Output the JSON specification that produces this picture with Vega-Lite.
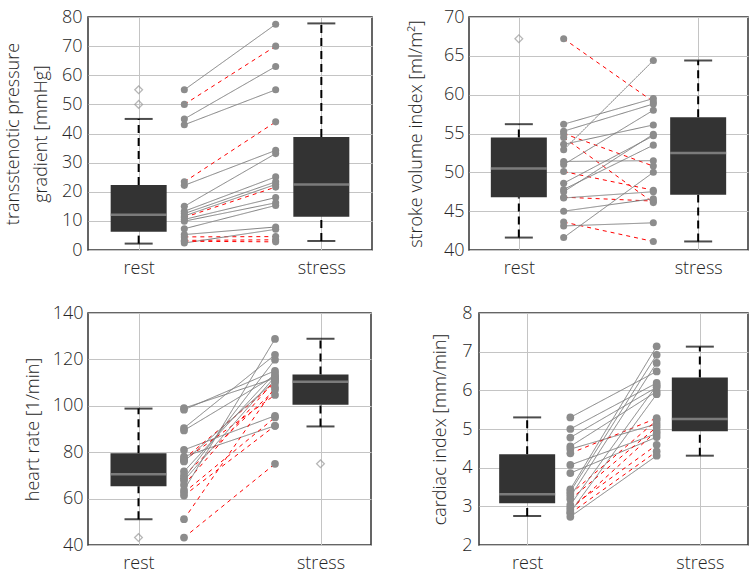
{
  "$schema": "https://vega.github.io/schema/vega-lite/v6.json",
  "padding": {"left": 3, "top": 7, "right": 0, "bottom": 0},
  "background": "white",
  "datasets": {
    "boxes": [
      {"panel": "grad", "pos": 1, "lo": 2.2, "q1": 6.3, "med": 12.1, "q3": 22.3, "hi": 45},
      {"panel": "grad", "pos": 3, "lo": 3.1, "q1": 11.4, "med": 22.5, "q3": 38.8, "hi": 77.8},
      {"panel": "svi", "pos": 1, "lo": 41.6, "q1": 46.8, "med": 50.5, "q3": 54.5, "hi": 56.2},
      {"panel": "svi", "pos": 3, "lo": 41.1, "q1": 47.1, "med": 52.5, "q3": 57.1, "hi": 64.4},
      {"panel": "hr", "pos": 1, "lo": 51.1, "q1": 65.3, "med": 70.5, "q3": 79.6, "hi": 98.8},
      {"panel": "hr", "pos": 3, "lo": 91.1, "q1": 100.4, "med": 110.4, "q3": 113.5, "hi": 128.9},
      {"panel": "ci", "pos": 1, "lo": 2.75, "q1": 3.08, "med": 3.31, "q3": 4.35, "hi": 5.3},
      {"panel": "ci", "pos": 3, "lo": 4.31, "q1": 4.94, "med": 5.26, "q3": 6.33, "hi": 7.13}
    ],
    "outliers": [
      {"panel": "grad", "pos": 1, "value": 50},
      {"panel": "grad", "pos": 1, "value": 55},
      {"panel": "svi", "pos": 1, "value": 67.2},
      {"panel": "hr", "pos": 1, "value": 43.2},
      {"panel": "hr", "pos": 3, "value": 75}
    ],
    "pairs": [
      {"panel": "grad", "id": 1, "rest": 55, "stress": 77.5, "grp": "g"},
      {"panel": "grad", "id": 2, "rest": 50, "stress": 70, "grp": "r"},
      {"panel": "grad", "id": 3, "rest": 45, "stress": 63, "grp": "g"},
      {"panel": "grad", "id": 4, "rest": 43, "stress": 55, "grp": "g"},
      {"panel": "grad", "id": 5, "rest": 23.4, "stress": 44, "grp": "r"},
      {"panel": "grad", "id": 6, "rest": 22.2, "stress": 34.2, "grp": "g"},
      {"panel": "grad", "id": 7, "rest": 15, "stress": 33.1, "grp": "g"},
      {"panel": "grad", "id": 8, "rest": 13.3, "stress": 25.1, "grp": "g"},
      {"panel": "grad", "id": 9, "rest": 12.5, "stress": 23.4, "grp": "g"},
      {"panel": "grad", "id": 10, "rest": 11.7, "stress": 22.5, "grp": "g"},
      {"panel": "grad", "id": 11, "rest": 11.2, "stress": 21.6, "grp": "r"},
      {"panel": "grad", "id": 12, "rest": 10.5, "stress": 18, "grp": "g"},
      {"panel": "grad", "id": 13, "rest": 9.9, "stress": 16.2, "grp": "g"},
      {"panel": "grad", "id": 14, "rest": 7.3, "stress": 15.3, "grp": "g"},
      {"panel": "grad", "id": 15, "rest": 5.3, "stress": 7.9, "grp": "g"},
      {"panel": "grad", "id": 16, "rest": 4.5, "stress": 4.6, "grp": "r"},
      {"panel": "grad", "id": 17, "rest": 3.3, "stress": 3.5, "grp": "r"},
      {"panel": "grad", "id": 18, "rest": 2.4, "stress": 7.1, "grp": "g"},
      {"panel": "grad", "id": 19, "rest": 3.0, "stress": 2.8, "grp": "r"},
      {"panel": "svi", "id": 1, "rest": 67.2, "stress": 59.1, "grp": "r"},
      {"panel": "svi", "id": 2, "rest": 56.2, "stress": 59.5, "grp": "g"},
      {"panel": "svi", "id": 3, "rest": 55.3, "stress": 58.8, "grp": "g"},
      {"panel": "svi", "id": 4, "rest": 55.0, "stress": 50.8, "grp": "r"},
      {"panel": "svi", "id": 5, "rest": 54.5, "stress": 46.1, "grp": "r"},
      {"panel": "svi", "id": 6, "rest": 53.6, "stress": 56.1, "grp": "g"},
      {"panel": "svi", "id": 7, "rest": 52.9, "stress": 64.4, "grp": "g"},
      {"panel": "svi", "id": 8, "rest": 51.4, "stress": 51.5, "grp": "g"},
      {"panel": "svi", "id": 9, "rest": 51.0, "stress": 58.0, "grp": "g"},
      {"panel": "svi", "id": 10, "rest": 50.1, "stress": 47.7, "grp": "r"},
      {"panel": "svi", "id": 11, "rest": 48.6, "stress": 54.7, "grp": "g"},
      {"panel": "svi", "id": 12, "rest": 47.8, "stress": 53.5, "grp": "g"},
      {"panel": "svi", "id": 13, "rest": 47.5, "stress": 54.9, "grp": "g"},
      {"panel": "svi", "id": 14, "rest": 46.8, "stress": 46.3, "grp": "r"},
      {"panel": "svi", "id": 15, "rest": 46.7, "stress": 47.5, "grp": "g"},
      {"panel": "svi", "id": 16, "rest": 45.0, "stress": 46.6, "grp": "g"},
      {"panel": "svi", "id": 17, "rest": 43.6, "stress": 41.1, "grp": "r"},
      {"panel": "svi", "id": 18, "rest": 43.1, "stress": 43.5, "grp": "g"},
      {"panel": "svi", "id": 19, "rest": 41.6, "stress": 50.0, "grp": "g"},
      {"panel": "hr", "id": 1, "rest": 99, "stress": 111.9, "grp": "g"},
      {"panel": "hr", "id": 2, "rest": 98.3, "stress": 115.1, "grp": "g"},
      {"panel": "hr", "id": 3, "rest": 90.4, "stress": 122, "grp": "g"},
      {"panel": "hr", "id": 4, "rest": 89.4, "stress": 113, "grp": "g"},
      {"panel": "hr", "id": 5, "rest": 81, "stress": 95.7, "grp": "g"},
      {"panel": "hr", "id": 6, "rest": 78.1, "stress": 91.4, "grp": "g"},
      {"panel": "hr", "id": 7, "rest": 77.1, "stress": 109.8, "grp": "r"},
      {"panel": "hr", "id": 8, "rest": 76.5, "stress": 104.7, "grp": "r"},
      {"panel": "hr", "id": 9, "rest": 76, "stress": 110.8, "grp": "g"},
      {"panel": "hr", "id": 10, "rest": 71.7, "stress": 114.1, "grp": "g"},
      {"panel": "hr", "id": 11, "rest": 70, "stress": 106.9, "grp": "r"},
      {"panel": "hr", "id": 12, "rest": 68.8, "stress": 119.9, "grp": "g"},
      {"panel": "hr", "id": 13, "rest": 67.8, "stress": 112.5, "grp": "g"},
      {"panel": "hr", "id": 14, "rest": 65.9, "stress": 111, "grp": "r"},
      {"panel": "hr", "id": 15, "rest": 63.7, "stress": 128.8, "grp": "g"},
      {"panel": "hr", "id": 16, "rest": 62.6, "stress": 95, "grp": "r"},
      {"panel": "hr", "id": 17, "rest": 61.3, "stress": 91.4, "grp": "r"},
      {"panel": "hr", "id": 18, "rest": 51.1, "stress": 108, "grp": "r"},
      {"panel": "hr", "id": 19, "rest": 43.2, "stress": 75, "grp": "r"},
      {"panel": "ci", "id": 1, "rest": 5.30, "stress": 6.49, "grp": "g"},
      {"panel": "ci", "id": 2, "rest": 5.00, "stress": 6.19, "grp": "g"},
      {"panel": "ci", "id": 3, "rest": 4.78, "stress": 6.08, "grp": "g"},
      {"panel": "ci", "id": 4, "rest": 4.55, "stress": 5.97, "grp": "g"},
      {"panel": "ci", "id": 5, "rest": 4.48, "stress": 5.13, "grp": "g"},
      {"panel": "ci", "id": 6, "rest": 4.37, "stress": 5.28, "grp": "r"},
      {"panel": "ci", "id": 7, "rest": 4.07, "stress": 4.88, "grp": "g"},
      {"panel": "ci", "id": 8, "rest": 3.86, "stress": 4.79, "grp": "g"},
      {"panel": "ci", "id": 9, "rest": 3.44, "stress": 7.14, "grp": "g"},
      {"panel": "ci", "id": 10, "rest": 3.38, "stress": 6.92, "grp": "g"},
      {"panel": "ci", "id": 11, "rest": 3.32, "stress": 5.22, "grp": "r"},
      {"panel": "ci", "id": 12, "rest": 3.25, "stress": 6.71, "grp": "g"},
      {"panel": "ci", "id": 13, "rest": 3.18, "stress": 5.05, "grp": "r"},
      {"panel": "ci", "id": 14, "rest": 3.04, "stress": 6.13, "grp": "g"},
      {"panel": "ci", "id": 15, "rest": 2.97, "stress": 4.59, "grp": "r"},
      {"panel": "ci", "id": 16, "rest": 2.91, "stress": 4.95, "grp": "r"},
      {"panel": "ci", "id": 17, "rest": 2.85, "stress": 5.9, "grp": "g"},
      {"panel": "ci", "id": 18, "rest": 2.82, "stress": 4.42, "grp": "r"},
      {"panel": "ci", "id": 19, "rest": 2.73, "stress": 4.31, "grp": "g"}
    ]
  },
  "spacing": 25,
  "vconcat": [
    {
      "bounds": "flush",
      "spacing": 97,
      "hconcat": [
        {
          "width": 284, "height": 233,
          "layer": [
            {"data": {"name": "boxes"}, "transform": [{"filter": "datum.panel == 'grad'"}],
             "layer": [
              {"mark": {"type": "rule", "color": "#000", "strokeWidth": 2, "strokeDash": [8, 5]},
               "encoding": {
                 "x": {"field": "pos", "type": "quantitative", "scale": {"domain": [0.5, 3.5], "nice": false, "zero": false},
                       "axis": {"values": [1, 3], "tickCount": 20, "labelExpr": "datum.value == 1 ? 'rest' : 'stress'", "title": null}},
                 "y": {"field": "q3", "type": "quantitative", "scale": {"domain": [0, 80], "nice": false, "zero": false},
                       "axis": {"values": [0, 10, 20, 30, 40, 50, 60, 70, 80], "tickCount": 20, "format": "d", "labelOverlap": false, "title": ["transstenotic pressure", "gradient [mmHg]"], "titleLineHeight": 28, "labelPadding": 6, "minExtent": 30, "maxExtent": 30, "titlePadding": 8}},
                 "y2": {"field": "hi"}}},
              {"mark": {"type": "rule", "color": "#000", "strokeWidth": 2, "strokeDash": [8, 5]},
               "encoding": {"x": {"field": "pos", "type": "quantitative"}, "y": {"field": "lo", "type": "quantitative"}, "y2": {"field": "q1"}}},
              {"mark": {"type": "tick", "orient": "horizontal", "size": 28, "thickness": 2, "color": "#000"},
               "encoding": {"x": {"field": "pos", "type": "quantitative"}, "y": {"field": "hi", "type": "quantitative"}}},
              {"mark": {"type": "tick", "orient": "horizontal", "size": 28, "thickness": 2, "color": "#000"},
               "encoding": {"x": {"field": "pos", "type": "quantitative"}, "y": {"field": "lo", "type": "quantitative"}}},
              {"mark": {"type": "bar", "width": 56, "color": "#333333"},
               "encoding": {"x": {"field": "pos", "type": "quantitative"}, "y": {"field": "q1", "type": "quantitative"}, "y2": {"field": "q3"}}},
              {"mark": {"type": "tick", "orient": "horizontal", "size": 56, "thickness": 2.5, "color": "#9a9a9a"},
               "encoding": {"x": {"field": "pos", "type": "quantitative"}, "y": {"field": "med", "type": "quantitative"}}}
             ]},
            {"data": {"name": "outliers"}, "transform": [{"filter": "datum.panel == 'grad'"}],
             "mark": {"type": "point", "shape": "diamond", "filled": false, "color": "#9a9a9a", "size": 60, "strokeWidth": 1.3},
             "encoding": {"x": {"field": "pos", "type": "quantitative"}, "y": {"field": "value", "type": "quantitative"}}},
            {"data": {"name": "pairs"}, "transform": [{"filter": "datum.panel == 'grad'"}],
             "layer": [
              {"mark": {"type": "rule", "strokeWidth": 1},
               "encoding": {"x": {"datum": 1.5, "type": "quantitative"}, "x2": {"datum": 2.5},
                 "y": {"field": "rest", "type": "quantitative"}, "y2": {"field": "stress"},
                 "color": {"field": "grp", "type": "nominal", "scale": {"domain": ["g", "r"], "range": ["#808080", "#ff0000"]}, "legend": null},
                 "strokeDash": {"field": "grp", "type": "nominal", "scale": {"domain": ["g", "r"], "range": [[1, 0], [4, 4]]}, "legend": null}}},
              {"mark": {"type": "circle", "color": "#8c8c8c", "size": 50, "opacity": 1},
               "encoding": {"x": {"datum": 1.5, "type": "quantitative"}, "y": {"field": "rest", "type": "quantitative"}}},
              {"mark": {"type": "circle", "color": "#8c8c8c", "size": 50, "opacity": 1},
               "encoding": {"x": {"datum": 2.5, "type": "quantitative"}, "y": {"field": "stress", "type": "quantitative"}}}
             ]}
          ]
        },
        {
          "width": 279, "height": 233,
          "layer": [
            {"data": {"name": "boxes"}, "transform": [{"filter": "datum.panel == 'svi'"}],
             "layer": [
              {"mark": {"type": "rule", "color": "#000", "strokeWidth": 2, "strokeDash": [8, 5]},
               "encoding": {
                 "x": {"field": "pos", "type": "quantitative", "scale": {"domain": [0.5, 3.5], "nice": false, "zero": false},
                       "axis": {"values": [1, 3], "tickCount": 20, "labelExpr": "datum.value == 1 ? 'rest' : 'stress'", "title": null}},
                 "y": {"field": "q3", "type": "quantitative", "scale": {"domain": [40, 70], "nice": false, "zero": false},
                       "axis": {"values": [40, 45, 50, 55, 60, 65, 70], "tickCount": 20, "format": "d", "labelOverlap": false, "title": "stroke volume index [ml/m²]", "labelPadding": 5, "minExtent": 30, "maxExtent": 30, "titlePadding": 14}},
                 "y2": {"field": "hi"}}},
              {"mark": {"type": "rule", "color": "#000", "strokeWidth": 2, "strokeDash": [8, 5]},
               "encoding": {"x": {"field": "pos", "type": "quantitative"}, "y": {"field": "lo", "type": "quantitative"}, "y2": {"field": "q1"}}},
              {"mark": {"type": "tick", "orient": "horizontal", "size": 28, "thickness": 2, "color": "#000"},
               "encoding": {"x": {"field": "pos", "type": "quantitative"}, "y": {"field": "hi", "type": "quantitative"}}},
              {"mark": {"type": "tick", "orient": "horizontal", "size": 28, "thickness": 2, "color": "#000"},
               "encoding": {"x": {"field": "pos", "type": "quantitative"}, "y": {"field": "lo", "type": "quantitative"}}},
              {"mark": {"type": "bar", "width": 56, "color": "#333333"},
               "encoding": {"x": {"field": "pos", "type": "quantitative"}, "y": {"field": "q1", "type": "quantitative"}, "y2": {"field": "q3"}}},
              {"mark": {"type": "tick", "orient": "horizontal", "size": 56, "thickness": 2.5, "color": "#9a9a9a"},
               "encoding": {"x": {"field": "pos", "type": "quantitative"}, "y": {"field": "med", "type": "quantitative"}}}
             ]},
            {"data": {"name": "outliers"}, "transform": [{"filter": "datum.panel == 'svi'"}],
             "mark": {"type": "point", "shape": "diamond", "filled": false, "color": "#9a9a9a", "size": 60, "strokeWidth": 1.3},
             "encoding": {"x": {"field": "pos", "type": "quantitative"}, "y": {"field": "value", "type": "quantitative"}}},
            {"data": {"name": "pairs"}, "transform": [{"filter": "datum.panel == 'svi'"}],
             "layer": [
              {"mark": {"type": "rule", "strokeWidth": 1},
               "encoding": {"x": {"datum": 1.5, "type": "quantitative"}, "x2": {"datum": 2.5},
                 "y": {"field": "rest", "type": "quantitative"}, "y2": {"field": "stress"},
                 "color": {"field": "grp", "type": "nominal", "scale": {"domain": ["g", "r"], "range": ["#808080", "#ff0000"]}, "legend": null},
                 "strokeDash": {"field": "grp", "type": "nominal", "scale": {"domain": ["g", "r"], "range": [[1, 0], [4, 4]]}, "legend": null}}},
              {"mark": {"type": "circle", "color": "#8c8c8c", "size": 50, "opacity": 1},
               "encoding": {"x": {"datum": 1.5, "type": "quantitative"}, "y": {"field": "rest", "type": "quantitative"}}},
              {"mark": {"type": "circle", "color": "#8c8c8c", "size": 50, "opacity": 1},
               "encoding": {"x": {"datum": 2.5, "type": "quantitative"}, "y": {"field": "stress", "type": "quantitative"}}}
             ]}
          ]
        }
      ]
    },
    {
      "bounds": "flush",
      "spacing": 108,
      "hconcat": [
        {
          "width": 283, "height": 232,
          "layer": [
            {"data": {"name": "boxes"}, "transform": [{"filter": "datum.panel == 'hr'"}],
             "layer": [
              {"mark": {"type": "rule", "color": "#000", "strokeWidth": 2, "strokeDash": [8, 5]},
               "encoding": {
                 "x": {"field": "pos", "type": "quantitative", "scale": {"domain": [0.5, 3.5], "nice": false, "zero": false},
                       "axis": {"values": [1, 3], "tickCount": 20, "labelExpr": "datum.value == 1 ? 'rest' : 'stress'", "title": null}},
                 "y": {"field": "q3", "type": "quantitative", "scale": {"domain": [40, 140], "nice": false, "zero": false},
                       "axis": {"values": [40, 60, 80, 100, 120, 140], "tickCount": 20, "format": "d", "labelOverlap": false, "title": ["", "heart rate [1/min]"], "titleLineHeight": 20, "labelPadding": 5, "minExtent": 30, "maxExtent": 30, "titlePadding": 16}},
                 "y2": {"field": "hi"}}},
              {"mark": {"type": "rule", "color": "#000", "strokeWidth": 2, "strokeDash": [8, 5]},
               "encoding": {"x": {"field": "pos", "type": "quantitative"}, "y": {"field": "lo", "type": "quantitative"}, "y2": {"field": "q1"}}},
              {"mark": {"type": "tick", "orient": "horizontal", "size": 28, "thickness": 2, "color": "#000"},
               "encoding": {"x": {"field": "pos", "type": "quantitative"}, "y": {"field": "hi", "type": "quantitative"}}},
              {"mark": {"type": "tick", "orient": "horizontal", "size": 28, "thickness": 2, "color": "#000"},
               "encoding": {"x": {"field": "pos", "type": "quantitative"}, "y": {"field": "lo", "type": "quantitative"}}},
              {"mark": {"type": "bar", "width": 56, "color": "#333333"},
               "encoding": {"x": {"field": "pos", "type": "quantitative"}, "y": {"field": "q1", "type": "quantitative"}, "y2": {"field": "q3"}}},
              {"mark": {"type": "tick", "orient": "horizontal", "size": 56, "thickness": 2.5, "color": "#9a9a9a"},
               "encoding": {"x": {"field": "pos", "type": "quantitative"}, "y": {"field": "med", "type": "quantitative"}}}
             ]},
            {"data": {"name": "outliers"}, "transform": [{"filter": "datum.panel == 'hr'"}],
             "mark": {"type": "point", "shape": "diamond", "filled": false, "color": "#9a9a9a", "size": 60, "strokeWidth": 1.3},
             "encoding": {"x": {"field": "pos", "type": "quantitative"}, "y": {"field": "value", "type": "quantitative"}}},
            {"data": {"name": "pairs"}, "transform": [{"filter": "datum.panel == 'hr'"}],
             "layer": [
              {"mark": {"type": "rule", "strokeWidth": 1},
               "encoding": {"x": {"datum": 1.5, "type": "quantitative"}, "x2": {"datum": 2.5},
                 "y": {"field": "rest", "type": "quantitative"}, "y2": {"field": "stress"},
                 "color": {"field": "grp", "type": "nominal", "scale": {"domain": ["g", "r"], "range": ["#808080", "#ff0000"]}, "legend": null},
                 "strokeDash": {"field": "grp", "type": "nominal", "scale": {"domain": ["g", "r"], "range": [[1, 0], [4, 4]]}, "legend": null}}},
              {"mark": {"type": "circle", "color": "#8c8c8c", "size": 60, "opacity": 1},
               "encoding": {"x": {"datum": 1.5, "type": "quantitative"}, "y": {"field": "rest", "type": "quantitative"}}},
              {"mark": {"type": "circle", "color": "#8c8c8c", "size": 60, "opacity": 1},
               "encoding": {"x": {"datum": 2.5, "type": "quantitative"}, "y": {"field": "stress", "type": "quantitative"}}}
             ]}
          ]
        },
        {
          "width": 269, "height": 232,
          "layer": [
            {"data": {"name": "boxes"}, "transform": [{"filter": "datum.panel == 'ci'"}],
             "layer": [
              {"mark": {"type": "rule", "color": "#000", "strokeWidth": 2, "strokeDash": [8, 5]},
               "encoding": {
                 "x": {"field": "pos", "type": "quantitative", "scale": {"domain": [0.5, 3.5], "nice": false, "zero": false},
                       "axis": {"values": [1, 3], "tickCount": 20, "labelExpr": "datum.value == 1 ? 'rest' : 'stress'", "title": null}},
                 "y": {"field": "q3", "type": "quantitative", "scale": {"domain": [2, 8], "nice": false, "zero": false},
                       "axis": {"values": [2, 3, 4, 5, 6, 7, 8], "tickCount": 20, "format": "d", "labelOverlap": false, "title": "cardiac index [mm/min]", "labelPadding": 7, "minExtent": 22, "maxExtent": 22, "titlePadding": 8}},
                 "y2": {"field": "hi"}}},
              {"mark": {"type": "rule", "color": "#000", "strokeWidth": 2, "strokeDash": [8, 5]},
               "encoding": {"x": {"field": "pos", "type": "quantitative"}, "y": {"field": "lo", "type": "quantitative"}, "y2": {"field": "q1"}}},
              {"mark": {"type": "tick", "orient": "horizontal", "size": 28, "thickness": 2, "color": "#000"},
               "encoding": {"x": {"field": "pos", "type": "quantitative"}, "y": {"field": "hi", "type": "quantitative"}}},
              {"mark": {"type": "tick", "orient": "horizontal", "size": 28, "thickness": 2, "color": "#000"},
               "encoding": {"x": {"field": "pos", "type": "quantitative"}, "y": {"field": "lo", "type": "quantitative"}}},
              {"mark": {"type": "bar", "width": 56, "color": "#333333"},
               "encoding": {"x": {"field": "pos", "type": "quantitative"}, "y": {"field": "q1", "type": "quantitative"}, "y2": {"field": "q3"}}},
              {"mark": {"type": "tick", "orient": "horizontal", "size": 56, "thickness": 2.5, "color": "#9a9a9a"},
               "encoding": {"x": {"field": "pos", "type": "quantitative"}, "y": {"field": "med", "type": "quantitative"}}}
             ]},
            {"data": {"name": "pairs"}, "transform": [{"filter": "datum.panel == 'ci'"}],
             "layer": [
              {"mark": {"type": "rule", "strokeWidth": 1},
               "encoding": {"x": {"datum": 1.5, "type": "quantitative"}, "x2": {"datum": 2.5},
                 "y": {"field": "rest", "type": "quantitative"}, "y2": {"field": "stress"},
                 "color": {"field": "grp", "type": "nominal", "scale": {"domain": ["g", "r"], "range": ["#808080", "#ff0000"]}, "legend": null},
                 "strokeDash": {"field": "grp", "type": "nominal", "scale": {"domain": ["g", "r"], "range": [[1, 0], [4, 4]]}, "legend": null}}},
              {"mark": {"type": "circle", "color": "#8c8c8c", "size": 60, "opacity": 1},
               "encoding": {"x": {"datum": 1.5, "type": "quantitative"}, "y": {"field": "rest", "type": "quantitative"}}},
              {"mark": {"type": "circle", "color": "#8c8c8c", "size": 60, "opacity": 1},
               "encoding": {"x": {"datum": 2.5, "type": "quantitative"}, "y": {"field": "stress", "type": "quantitative"}}}
             ]}
          ]
        }
      ]
    }
  ],
  "config": {
    "font": "Open Sans",
    "view": {"stroke": "#333333", "strokeWidth": 1.5},
    "axis": {
      "labelFont": "Open Sans", "labelFontSize": 18, "labelColor": "#262626", "labelFontWeight": 300,
      "titleFont": "Open Sans", "titleFontSize": 18, "titleFontWeight": 300, "titleColor": "#262626",
      "labelOverlap": false,
      "ticks": false, "domain": false, "grid": true, "gridColor": "#c4c4c4", "gridWidth": 1, "gridOpacity": 1
    },
    "axisX": {"labelPadding": 9}
  }
}
